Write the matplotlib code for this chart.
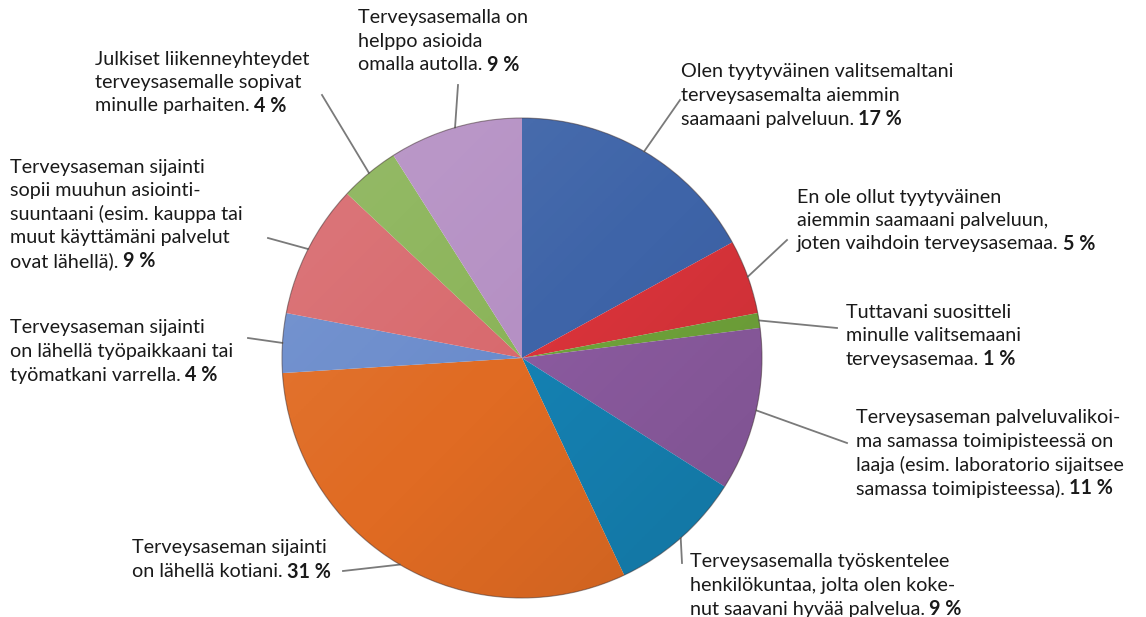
import numpy as np
import matplotlib.pyplot as plt
from matplotlib.patches import Circle

plt.rcParams['font.family'] = ['Lato', 'DejaVu Sans']

# ---- data (clockwise from 12 o'clock) ----
shares = [17, 5, 1, 11, 9, 31, 4, 9, 4, 9]
label_lines = [
    ["Olen tyytyväinen valitsemaltani", "terveysasemalta aiemmin", "saamaani palveluun."],
    ["En ole ollut tyytyväinen", "aiemmin saamaani palveluun,", "joten vaihdoin terveysasemaa."],
    ["Tuttavani suositteli", "minulle valitsemaani", "terveysasemaa."],
    ["Terveysaseman palveluvalikoi-", "ma samassa toimipisteessä on",
     "laaja (esim. laboratorio sijaitsee", "samassa toimipisteessa)."],
    ["Terveysasemalla työskentelee", "henkilökuntaa, jolta olen koke-", "nut saavani hyvää palvelua."],
    ["Terveysaseman sijainti", "on lähellä kotiani."],
    ["Terveysaseman sijainti", "on lähellä työpaikkaani tai", "työmatkani varrella."],
    ["Terveysaseman sijainti", "sopii muuhun asiointi-", "suuntaani (esim. kauppa tai",
     "muut käyttämäni palvelut", "ovat lähellä)."],
    ["Julkiset liikenneyhteydet", "terveysasemalle sopivat", "minulle parhaiten."],
    ["Terveysasemalla on", "helppo asioida", "omalla autolla."],
]
colors = ["#3e64a8", "#d8333a", "#6fa23a", "#8a5a9e", "#1581b2",
          "#e06b23", "#6b8ccc", "#d86a6e", "#8bb459", "#b590c4"]

# ---- layout (pixel coords, y down) ----
W, H = 1146, 617
cx, cy, R = 522, 358, 240
text_pos = [(681, 72), (797, 197), (846, 312), (856, 418), (690, 562),
            (132, 548), (10, 328), (10, 167), (95, 59), (358, 18)]
leader_end = [(680, 100), (787, 240), (837, 328), (847, 443), (682, 563),
              (343, 571), (248, 338), (268, 238), (322, 95), (458, 85)]
line_step = 23.5
fs = 14.2
txt_color = "#1a1a1a"


def py(y):
    return H - y


fig = plt.figure(figsize=(W / 100, H / 100), dpi=100)
ax = fig.add_axes([0, 0, 1, 1])

wedges, _ = ax.pie(shares, colors=colors, startangle=90, counterclock=False,
                   center=(cx, py(cy)), radius=R, frame=True,
                   wedgeprops=dict(linewidth=0))
ax.set_xlim(0, W)
ax.set_ylim(0, H)
ax.set_aspect("equal")
ax.axis("off")

# soft lighting over the pie
gx, gy = np.meshgrid(np.linspace(-1, 1, 300), np.linspace(1, -1, 300))
shade = np.clip(0.25 * (gx - gy), -1, 1)
rgba = np.zeros((300, 300, 4))
rgba[..., 3] = np.abs(shade) * 0.2
rgba[..., :3] = np.where(shade[..., None] < 0, 1.0, 0.0)
clip = Circle((cx, py(cy)), R, transform=ax.transData)
im = ax.imshow(rgba, extent=(cx - R, cx + R, py(cy) - R, py(cy) + R), zorder=3)
im.set_clip_path(clip)
ax.add_patch(Circle((cx, py(cy)), R, fill=False, ec="#3a2a2a", lw=0.8, alpha=0.5, zorder=4))

for w, share, lines, (tx, ty), (ex, ey) in zip(wedges, shares, label_lines, text_pos, leader_end):
    mid = np.deg2rad((w.theta1 + w.theta2) / 2)
    sx, sy = cx + R * np.cos(mid), py(cy) + R * np.sin(mid)
    ax.plot([sx, ex], [sy, py(ey)], color="#7a7a7a", lw=1.3, zorder=2)
    for i, line in enumerate(lines):
        t = ax.text(tx, py(ty + i * line_step), line, fontsize=fs, color=txt_color,
                    ha="left", va="center")
    # bold share appended to the last line
    ax.annotate(f"{share} %", xy=(1, 0.5), xycoords=t, xytext=(3, 0),
                textcoords="offset points", ha="left", va="center",
                fontsize=fs, fontweight="bold", color=txt_color)

fig.savefig("out.png", dpi=100, facecolor="white")
